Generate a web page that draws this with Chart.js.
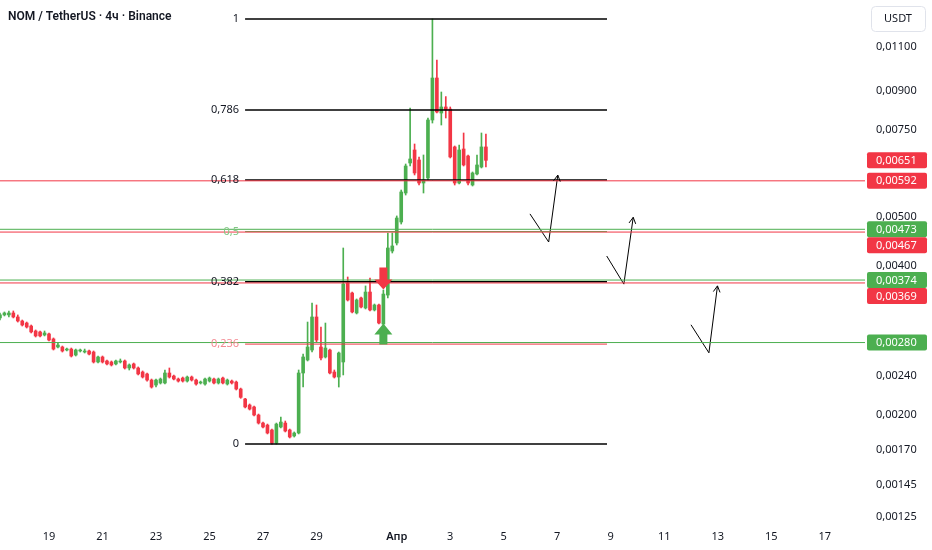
<!DOCTYPE html>
<html>
<head>
<meta charset="utf-8">
<script src="https://cdn.jsdelivr.net/npm/chart.js@4.4.1/dist/chart.umd.min.js"></script>
<style>
    html, body { margin: 0; padding: 0; background: #ffffff; }
    #wrap { position: relative; width: 932px; height: 550px; }
</style>
</head>
<body>
<div id="wrap"><canvas id="myChart"></canvas></div>
<script>
// NOM / USDT, 4h candles from 17 Mar 04:00 (day numbers count from 1 Mar, so 1 Apr = 32)
var firstCandleDay = 17 + 4 / 24;
var candleHours = 4;

var opens = [
    0.003138, 0.003182, 0.003182, 0.003211, 0.003152, 0.003094, 0.003065, 0.003023, 0.002954, 0.002941,
    0.002900, 0.002914, 0.002847, 0.002743, 0.002743, 0.002705, 0.002717, 0.002643, 0.002693, 0.002680,
    0.002693, 0.002680, 0.002559, 0.002619, 0.002571, 0.002559, 0.002536, 0.002559, 0.002571, 0.002489,
    0.002536, 0.002489, 0.002443, 0.002421, 0.002354, 0.002300, 0.002322, 0.002322, 0.002432, 0.002398,
    0.002365, 0.002376, 0.002343, 0.002387, 0.002354, 0.002322, 0.002311, 0.002343, 0.002365, 0.002322,
    0.002376, 0.002311, 0.002343, 0.002332, 0.002258, 0.002156, 0.002097, 0.002078, 0.002002, 0.001929,
    0.001911, 0.001868, 0.001758, 0.001894, 0.001929, 0.001868, 0.001817, 0.001842, 0.002432, 0.002583,
    0.002705, 0.003152, 0.002743, 0.002619, 0.002705, 0.002443, 0.002387, 0.002559, 0.003689, 0.003522,
    0.003211, 0.003442, 0.003286, 0.003538, 0.003256, 0.003332, 0.003051, 0.003489, 0.004278, 0.004440,
    0.004893, 0.005596, 0.006430, 0.006829, 0.006520, 0.005861, 0.005999, 0.007846, 0.009530, 0.008104,
    0.008334, 0.008254, 0.006926, 0.005861, 0.006860, 0.006641, 0.005807, 0.006111, 0.006311, 0.006926
];
var highs = [
    0.003211, 0.003226, 0.003241, 0.003241, 0.003182, 0.003108, 0.003079, 0.003037, 0.002968, 0.002954,
    0.002954, 0.002927, 0.002860, 0.002796, 0.002755, 0.002730, 0.002730, 0.002717, 0.002717, 0.002717,
    0.002705, 0.002693, 0.002631, 0.002631, 0.002583, 0.002571, 0.002583, 0.002595, 0.002583, 0.002536,
    0.002547, 0.002501, 0.002455, 0.002432, 0.002365, 0.002365, 0.002376, 0.002466, 0.002489, 0.002410,
    0.002376, 0.002387, 0.002398, 0.002398, 0.002365, 0.002343, 0.002376, 0.002387, 0.002376, 0.002376,
    0.002387, 0.002365, 0.002354, 0.002343, 0.002268, 0.002163, 0.002107, 0.002087, 0.002011, 0.001938,
    0.001920, 0.001876, 0.001929, 0.001984, 0.001947, 0.001876, 0.001851, 0.002466, 0.002655, 0.003079,
    0.003363, 0.003332, 0.003009, 0.003065, 0.002717, 0.002466, 0.002680, 0.004338, 0.003793, 0.003538,
    0.003426, 0.003457, 0.003639, 0.003775, 0.003347, 0.003347, 0.003571, 0.004650, 0.004650, 0.005032,
    0.005674, 0.006400, 0.008294, 0.007021, 0.006612, 0.006673, 0.007919, 0.012524, 0.010358, 0.008932,
    0.008744, 0.008334, 0.006956, 0.006988, 0.007388, 0.006673, 0.006168, 0.006673, 0.007388, 0.007353
];
var lows = [
    0.003108, 0.003167, 0.003152, 0.003138, 0.003079, 0.003023, 0.002995, 0.002927, 0.002873, 0.002873,
    0.002887, 0.002820, 0.002705, 0.002730, 0.002680, 0.002693, 0.002619, 0.002631, 0.002680, 0.002668,
    0.002643, 0.002547, 0.002547, 0.002547, 0.002524, 0.002512, 0.002524, 0.002547, 0.002477, 0.002466,
    0.002477, 0.002410, 0.002376, 0.002343, 0.002268, 0.002279, 0.002311, 0.002311, 0.002376, 0.002354,
    0.002332, 0.002332, 0.002332, 0.002343, 0.002300, 0.002311, 0.002300, 0.002332, 0.002311, 0.002311,
    0.002311, 0.002300, 0.002311, 0.002248, 0.002163, 0.002068, 0.002049, 0.001993, 0.001920, 0.001885,
    0.001834, 0.001750, 0.001750, 0.001885, 0.001851, 0.001800, 0.001808, 0.001834, 0.002279, 0.002571,
    0.002680, 0.002807, 0.002583, 0.002607, 0.002421, 0.002376, 0.002279, 0.002410, 0.003394, 0.003211,
    0.003196, 0.003286, 0.003271, 0.003241, 0.003241, 0.003051, 0.003037, 0.003442, 0.004239, 0.004399,
    0.004847, 0.005544, 0.006341, 0.006083, 0.005807, 0.005596, 0.005943, 0.007737, 0.008104, 0.007666,
    0.007919, 0.006581, 0.005807, 0.005834, 0.006341, 0.005807, 0.005780, 0.006083, 0.006283, 0.006311
];
var closes = [
    0.003182, 0.003211, 0.003211, 0.003152, 0.003094, 0.003037, 0.003009, 0.002941, 0.002887, 0.002887,
    0.002927, 0.002833, 0.002717, 0.002768, 0.002693, 0.002717, 0.002631, 0.002705, 0.002705, 0.002693,
    0.002655, 0.002559, 0.002619, 0.002559, 0.002536, 0.002524, 0.002571, 0.002571, 0.002489, 0.002524,
    0.002489, 0.002421, 0.002387, 0.002354, 0.002279, 0.002354, 0.002365, 0.002432, 0.002387, 0.002365,
    0.002343, 0.002343, 0.002387, 0.002354, 0.002311, 0.002332, 0.002365, 0.002376, 0.002322, 0.002365,
    0.002322, 0.002354, 0.002322, 0.002258, 0.002173, 0.002078, 0.002058, 0.002002, 0.001929, 0.001894,
    0.001842, 0.001758, 0.001920, 0.001938, 0.001859, 0.001808, 0.001842, 0.002432, 0.002619, 0.002743,
    0.003152, 0.002833, 0.002607, 0.002730, 0.002432, 0.002387, 0.002668, 0.003672, 0.003410, 0.003226,
    0.003410, 0.003301, 0.003538, 0.003256, 0.003332, 0.003065, 0.003505, 0.004338, 0.004379, 0.004984,
    0.005622, 0.006341, 0.006550, 0.006139, 0.005861, 0.005943, 0.007846, 0.009530, 0.008142, 0.008334,
    0.008218, 0.006612, 0.005861, 0.006829, 0.006371, 0.005861, 0.006139, 0.006371, 0.006926, 0.006510
];

var dayTicks = [19, 21, 23, 25, 27, 29, 32, 34, 36, 38, 40, 42, 44, 46, 48];
var dayLabels = ["19", "21", "23", "25", "27", "29", "Апр", "3", "5", "7", "9", "11", "13", "15", "17"];

var priceTicks = [0.011, 0.009, 0.0075, 0.006, 0.005, 0.004, 0.0024, 0.002, 0.0017, 0.00145, 0.00125];

// fibonacci drawing (log)
var fibLevels = ["1", "0,786", "0,618", "0,5", "0,382", "0,236", "0"];
var fibPrices = [0.01252, 0.00822, 0.00594, 0.00468, 0.00371, 0.00278, 0.00175];
var fibFromDay = 26.33;
var fibToDay = 39.86;

// horizontal levels
var redLevels = [0.00592, 0.00467, 0.00369];
var greenLevels = [0.00473, 0.00374, 0.00280];
var lastPrice = 0.00651;

// hand drawn arrows
var arrowDays = [[36.98, 37.68, 38.02], [39.85, 40.49, 40.84], [43.00, 43.67, 43.99]];
var arrowPrices = [[0.00508, 0.00446, 0.00608], [0.00418, 0.00367, 0.00500], [0.00304, 0.00267, 0.00364]];

// signal markers
var signalDay = 31.5;
var sellSignalPrice = 0.00358;
var buySignalPrice = 0.00306;

var green = "#4caf50";
var red = "#f23645";
var textColor = "#131722";
var fontFamily = "'Noto Sans', 'Open Sans', sans-serif";

function fmtPrice(v) {
    return v.toFixed(5).replace(".", ",");
}

function fibColor(label) {
    if (label == "0,5") return { line: green, text: "#81c784" };
    if (label == "0,236") return { line: red, text: "#f48a92" };
    return { line: "#000000", text: textColor };
}

function candleColor(ctx) {
    var i = ctx.dataIndex;
    return closes[i] >= opens[i] ? green : red;
}

function hLine(price, from, to, color, width) {
    return {
        type: "line",
        data: [{ x: from, y: price }, { x: to, y: price }],
        borderColor: color,
        borderWidth: width,
        pointRadius: 0,
        order: 0
    };
}

var candleDays = opens.map(function (o, i) { return firstCandleDay + i * candleHours / 24; });

var datasets = [];

datasets.push({
    type: "bar",
    data: candleDays.map(function (d, i) { return { x: d, y: [lows[i], highs[i]] }; }),
    backgroundColor: candleColor,
    barThickness: 1,
    grouped: false,
    order: 3
});
datasets.push({
    type: "bar",
    data: candleDays.map(function (d, i) { return { x: d, y: [opens[i], closes[i]] }; }),
    backgroundColor: candleColor,
    barThickness: 3,
    minBarLength: 1,
    grouped: false,
    order: 2
});

for (let p of redLevels) datasets.push(hLine(p, 16, 50, red, 1));
for (let p of greenLevels) datasets.push(hLine(p, 16, 50, green, 1));

for (let i in fibPrices) {
    let col = fibColor(fibLevels[i]);
    datasets.push(hLine(fibPrices[i], fibFromDay, fibToDay, col.line, col.line == "#000000" ? 1.5 : 1));
}

for (let i in arrowDays) {
    datasets.push({
        type: "line",
        data: arrowDays[i].map(function (d, j) { return { x: d, y: arrowPrices[i][j] }; }),
        borderColor: "#000000",
        borderWidth: 1,
        pointRadius: 0,
        tension: 0,
        order: 0
    });
}

var overlay = {
    id: "overlay",
    afterDraw: function (chart) {
        var ctx = chart.ctx;
        var xs = chart.scales.x;
        var ys = chart.scales.y;
        ctx.save();

        // fib level labels
        ctx.font = "11px " + fontFamily;
        ctx.textAlign = "right";
        ctx.textBaseline = "middle";
        var fx = xs.getPixelForValue(fibFromDay) - 6;
        for (let i in fibPrices) {
            ctx.fillStyle = fibColor(fibLevels[i]).text;
            ctx.fillText(fibLevels[i], fx, ys.getPixelForValue(fibPrices[i]));
        }

        // arrow heads
        ctx.strokeStyle = "#000000";
        ctx.lineWidth = 1;
        for (let i in arrowDays) {
            let n = arrowDays[i].length;
            let x1 = xs.getPixelForValue(arrowDays[i][n - 2]), y1 = ys.getPixelForValue(arrowPrices[i][n - 2]);
            let x2 = xs.getPixelForValue(arrowDays[i][n - 1]), y2 = ys.getPixelForValue(arrowPrices[i][n - 1]);
            let a = Math.atan2(y2 - y1, x2 - x1);
            ctx.beginPath();
            ctx.moveTo(x2 + 7 * Math.cos(a + Math.PI - 0.5), y2 + 7 * Math.sin(a + Math.PI - 0.5));
            ctx.lineTo(x2, y2);
            ctx.lineTo(x2 + 7 * Math.cos(a + Math.PI + 0.5), y2 + 7 * Math.sin(a + Math.PI + 0.5));
            ctx.stroke();
        }

        // sell / buy markers
        var sx = xs.getPixelForValue(signalDay);
        var sy = ys.getPixelForValue(sellSignalPrice);
        ctx.fillStyle = red;
        ctx.beginPath();
        ctx.moveTo(sx, sy);
        ctx.lineTo(sx - 9, sy - 10);
        ctx.lineTo(sx - 4, sy - 10);
        ctx.lineTo(sx - 4, sy - 22);
        ctx.lineTo(sx + 4, sy - 22);
        ctx.lineTo(sx + 4, sy - 10);
        ctx.lineTo(sx + 9, sy - 10);
        ctx.closePath();
        ctx.fill();
        var by = ys.getPixelForValue(buySignalPrice);
        ctx.fillStyle = green;
        ctx.beginPath();
        ctx.moveTo(sx, by);
        ctx.lineTo(sx - 9, by + 11);
        ctx.lineTo(sx - 4, by + 11);
        ctx.lineTo(sx - 4, by + 21);
        ctx.lineTo(sx + 4, by + 21);
        ctx.lineTo(sx + 4, by + 11);
        ctx.lineTo(sx + 9, by + 11);
        ctx.closePath();
        ctx.fill();

        // price scale labels
        var tags = [{ v: lastPrice, c: red }];
        for (let p of redLevels) tags.push({ v: p, c: red });
        for (let p of greenLevels) tags.push({ v: p, c: green });
        tags.sort(function (a, b) { return b.v - a.v; });
        var prevBottom = -1000;
        ctx.textAlign = "left";
        for (let t of tags) {
            let y = ys.getPixelForValue(t.v);
            if (y - 8 < prevBottom) y = prevBottom + 8;
            prevBottom = y + 8;
            ctx.fillStyle = t.c;
            ctx.beginPath();
            ctx.roundRect(867, y - 8, 60, 16, 2);
            ctx.fill();
            ctx.fillStyle = "#ffffff";
            ctx.fillText(fmtPrice(t.v), 876, y + 0.5);
        }

        // currency box
        ctx.strokeStyle = "#e0e3eb";
        ctx.beginPath();
        ctx.roundRect(871.5, 6.5, 54, 25, 4);
        ctx.stroke();
        ctx.fillStyle = textColor;
        ctx.textAlign = "center";
        ctx.fillText("USDT", 898, 19);

        // title
        ctx.font = "600 12px Roboto, " + fontFamily;
        ctx.textAlign = "left";
        ctx.fillText("NOM / TetherUS · 4ч · Binance", 8, 17);

        ctx.restore();
    }
};

var ctx = document.getElementById("myChart").getContext("2d");
var myChart = new Chart(ctx, {
    type: "bar",
    data: { datasets: datasets },
    plugins: [overlay],
    options: {
        responsive: true,
        maintainAspectRatio: false,
        animation: false,
        layout: { padding: 0 },
        plugins: {
            legend: { display: false },
            tooltip: { enabled: false }
        },
        scales: {
            x: {
                type: "linear",
                offset: false,
                min: 17.168,
                max: 49.505,
                grid: { display: false, drawTicks: false },
                border: { display: false },
                afterBuildTicks: function (s) {
                    s.ticks = dayTicks.map(function (v) { return { value: v }; });
                },
                afterFit: function (s) {
                    s.height = 28;
                    s.paddingLeft = 0;
                    s.paddingRight = 0;
                },
                ticks: {
                    autoSkip: false,
                    maxRotation: 0,
                    padding: 8,
                    color: textColor,
                    font: function (c) {
                        return { family: fontFamily, size: 11, weight: c.tick && c.tick.value == 32 ? "600" : "normal" };
                    },
                    callback: function (v) { return dayLabels[dayTicks.indexOf(v)]; }
                }
            },
            y: {
                type: "logarithmic",
                position: "right",
                beginAtZero: false,
                min: 0.001220,
                max: 0.013675,
                grid: { display: false, drawTicks: false },
                border: { display: false },
                afterBuildTicks: function (s) {
                    s.ticks = priceTicks.map(function (v) { return { value: v }; });
                },
                afterFit: function (s) {
                    s.width = 67;
                    s.paddingTop = 0;
                    s.paddingBottom = 0;
                },
                ticks: {
                    autoSkip: false,
                    padding: 11,
                    color: textColor,
                    font: { family: fontFamily, size: 11 },
                    callback: function (v) { return fmtPrice(v); }
                }
            }
        }
    }
});
</script>
</body>
</html>
